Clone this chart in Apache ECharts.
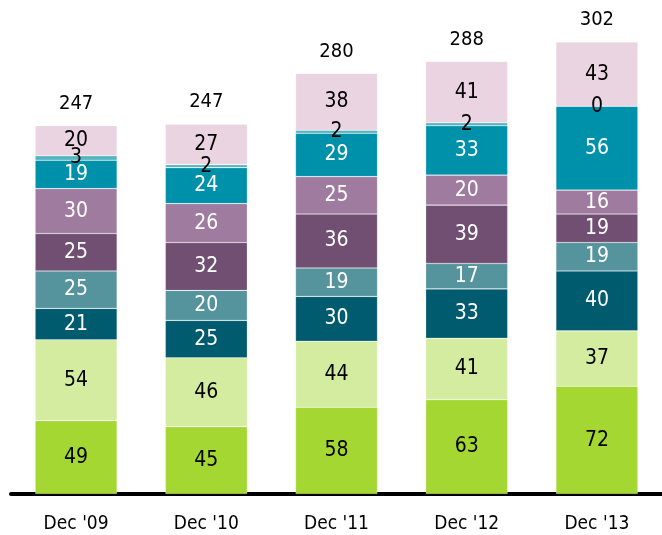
<!DOCTYPE html>
<html>
<head>
<meta charset="utf-8">
<script src="https://cdn.jsdelivr.net/npm/echarts@6/dist/echarts.min.js"></script>
<style>
  html, body { margin: 0; padding: 0; background: #fff; }
  #main { width: 662px; height: 535px; }
</style>
</head>
<body>
<div id="main"></div>
<script>
// categories and stacked segments, bottom to top
var categories = ["Dec '09", "Dec '10", "Dec '11", "Dec '12", "Dec '13"];
var seg1 = [49, 45, 58, 63, 72];
var seg2 = [54, 46, 44, 41, 37];
var seg3 = [21, 25, 30, 33, 40];
var seg4 = [25, 20, 19, 17, 19];
var seg5 = [25, 32, 36, 39, 19];
var seg6 = [30, 26, 25, 20, 16];
var seg7 = [19, 24, 29, 33, 56];
var seg8 = [3, 2, 2, 2, 0];
var seg9 = [20, 27, 38, 41, 43];
var totals = [247, 247, 280, 288, 302];

var font = "'DejaVu Sans Condensed', 'Liberation Sans Narrow', 'Liberation Sans', sans-serif";

function stackSeries(name, data, color, labelColor) {
  return {
    name: name,
    type: 'bar',
    stack: 'all',
    data: data,
    barWidth: 82,
    itemStyle: { color: color, borderColor: 'rgba(255,255,255,0.35)', borderWidth: 0.6 },
    label: {
      show: true,
      position: 'inside',
      color: labelColor,
      fontFamily: font,
      fontSize: 21
    },
    emphasis: { disabled: true }
  };
}

var myChart = echarts.init(document.getElementById('main'));

var option = {
  animation: false,
  grid: { left: 11, right: 0, top: 0, bottom: 41 },
  xAxis: {
    type: 'category',
    data: categories,
    offset: 2,
    axisLine: { lineStyle: { color: '#000', width: 4 } },
    axisTick: { show: false },
    axisLabel: { color: '#000', fontFamily: font, fontSize: 19, margin: 19 }
  },
  yAxis: {
    type: 'value',
    min: 0,
    max: 330,
    show: false
  },
  series: [
    stackSeries('s1', seg1, '#a5d732', '#000'),
    stackSeries('s2', seg2, '#d3eca0', '#000'),
    stackSeries('s3', seg3, '#005b6e', '#fff'),
    stackSeries('s4', seg4, '#55939d', '#fff'),
    stackSeries('s5', seg5, '#714f72', '#fff'),
    stackSeries('s6', seg6, '#9f7b9f', '#fff'),
    stackSeries('s7', seg7, '#0091aa', '#fff'),
    stackSeries('s8', seg8, '#55b4c0', '#000'),
    stackSeries('s9', seg9, '#ead4e1', '#000'),
    {
      name: 'total',
      type: 'bar',
      stack: 'all',
      data: totals.map(function () { return 0; }),
      barWidth: 82,
      itemStyle: { color: 'transparent' },
      label: {
        show: true,
        position: 'top',
        distance: 12,
        color: '#000',
        fontFamily: font,
        fontSize: 20,
        formatter: function (p) { return totals[p.dataIndex]; }
      }
    }
  ]
};

myChart.setOption(option);
</script>
</body>
</html>
